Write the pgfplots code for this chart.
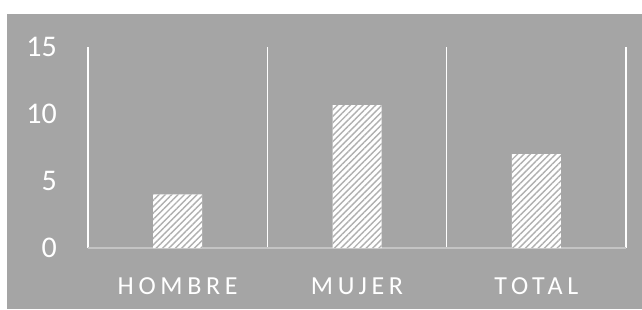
\documentclass[border=0pt]{standalone}
\usepackage{fontspec}
\setmainfont{Carlito}
\usepackage{pgfplots}
\pgfplotsset{compat=1.18}
\usetikzlibrary{patterns.meta}
\definecolor{bg}{HTML}{A5A5A5}
\definecolor{axisgray}{HTML}{C4C4C4}
\definecolor{hatch}{HTML}{B0B0B0}
\begin{document}
\begin{tikzpicture}
\fill[white] (0,0) rectangle (642pt,309pt);
\fill[bg] (7pt,0) rectangle (642pt,295pt);
\begin{axis}[
  at={(88pt,61pt)}, anchor=south west,
  scale only axis, width=538pt, height=201pt,
  xmin=-0.5, xmax=2.5, ymin=0, ymax=15,
  axis x line*=bottom, axis y line*=left,
  x axis line style={axisgray, line width=1.5pt, -},
  y axis line style={draw=none},
  xtick={0,1,2}, xticklabels={HOMBRE, MUJER, TOTAL},
  minor xtick={-0.5,0.5,1.5,2.5},
  xminorgrids, minor grid style={white, line width=1.6pt},
  ytick={0,5,10,15},
  major tick length=0pt, minor tick length=0pt,
  /pgf/number format/assume math mode=true,
  yticklabel style={font=\fontsize{30}{34}\selectfont, white, anchor=east, inner sep=0pt, xshift=-31pt},
  xticklabel style={font=\fontsize{26}{30}\selectfont\addfontfeature{LetterSpace=18}, white, anchor=base, inner sep=0pt, yshift=-46pt},
  clip=false,
]
\addplot[ybar, bar width=49pt, draw=none, fill=white,
  postaction={pattern={Lines[angle=45,distance=4.5pt,line width=1.4pt]}, pattern color=hatch}]
  coordinates {(0,4) (1,10.67) (2,7)};
\end{axis}
\pgfresetboundingbox
\useasboundingbox (0,0) rectangle (642pt,309pt);
\end{tikzpicture}
\end{document}
